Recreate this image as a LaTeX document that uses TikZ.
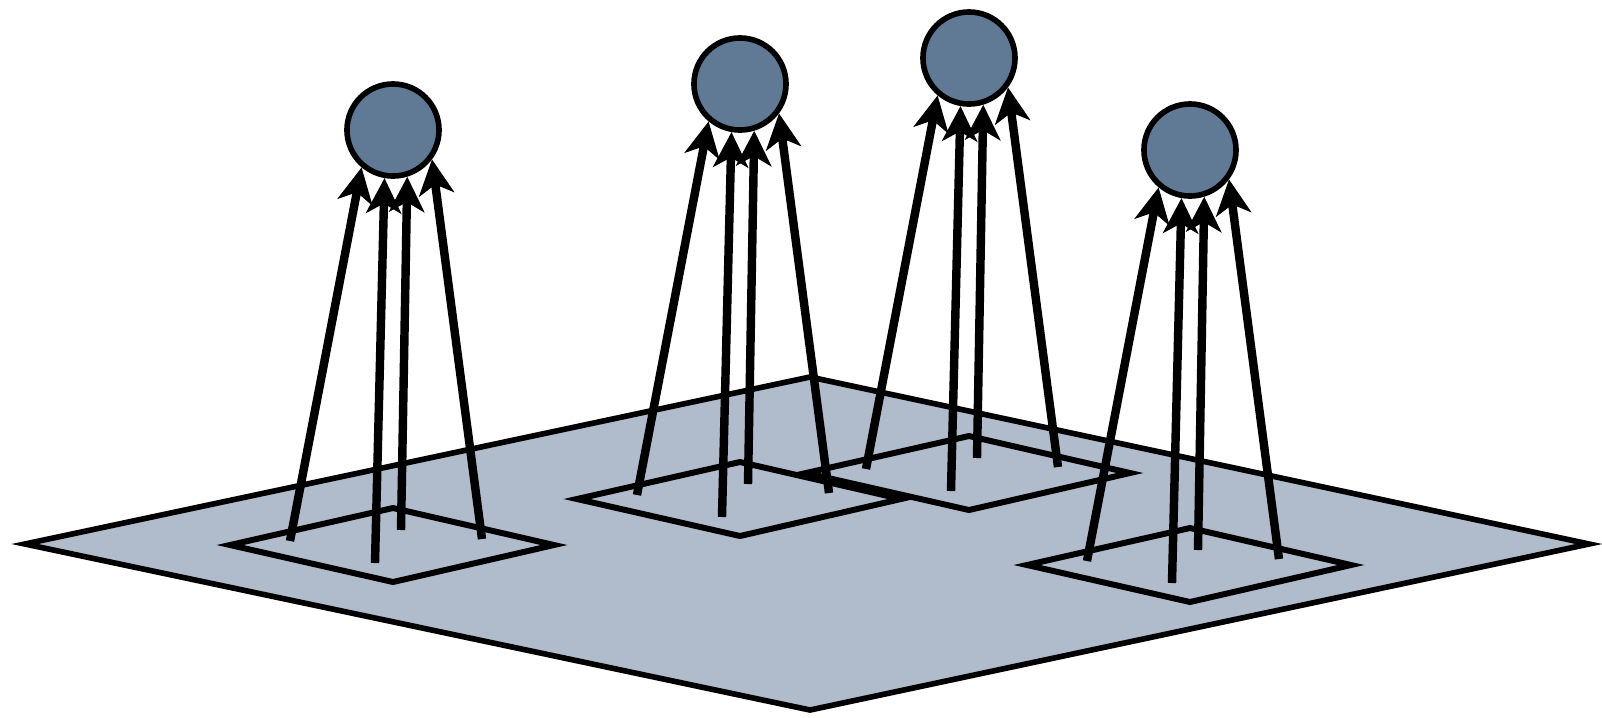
\documentclass[tikz,border=0pt]{standalone}
\usetikzlibrary{arrows.meta}
\definecolor{planeblue}{RGB}{176,188,203}
\definecolor{ballblue}{RGB}{96,122,150}
\tikzset{
  ground/.style={draw, line width=1.6pt, fill=planeblue},
  pad/.style={draw, line width=1.7pt, fill=planeblue},
  ball/.style={circle, draw, line width=1.6pt, fill=ballblue, minimum size=0.92cm, inner sep=0pt},
  leg/.style={->, line width=2.4pt}
}
\begin{document}
\begin{tikzpicture}[x=0.01cm, y=-0.01cm, >={Stealth[length=10pt,width=10pt,inset=2.8pt]}]
  \useasboundingbox (0,0) rectangle (1602,717);
  \draw[ground] (25,544) -- (810,377) -- (1589,544) -- (810,710) -- cycle;
  % back tower
  \begin{scope}[shift={(969,58)}]
    \draw[pad] (-163,415) -- (0,378) -- (161,415) -- (0,452) -- cycle;
    \node[ball] (ball3) at (0,0) {};
    \coordinate (foot3a) at (-103,411); \coordinate (foot3b) at (-18,433);
    \coordinate (foot3c) at (8,400); \coordinate (foot3d) at (89,409);
    \draw[leg] (foot3a) -- (ball3.230);
    \draw[leg] (foot3b) -- (ball3.260);
    \draw[leg] (foot3c) -- (ball3.287);
    \draw[leg] (foot3d) -- (ball3.323);
  \end{scope}
  \begin{scope}[shift={(740,84)}]
    \draw[pad] (-163,415) -- (0,378) -- (161,415) -- (0,452) -- cycle;
    \node[ball] (ball2) at (0,0) {};
    \coordinate (foot2a) at (-103,411); \coordinate (foot2b) at (-18,433);
    \coordinate (foot2c) at (8,400); \coordinate (foot2d) at (89,409);
    \draw[leg] (foot2a) -- (ball2.230);
    \draw[leg] (foot2b) -- (ball2.260);
    \draw[leg] (foot2c) -- (ball2.287);
    \draw[leg] (foot2d) -- (ball2.323);
  \end{scope}
  \begin{scope}[shift={(393,130)}]
    \draw[pad] (-163,415) -- (0,378) -- (161,415) -- (0,452) -- cycle;
    \node[ball] (ball1) at (0,0) {};
    \coordinate (foot1a) at (-103,411); \coordinate (foot1b) at (-18,433);
    \coordinate (foot1c) at (8,400); \coordinate (foot1d) at (89,409);
    \draw[leg] (foot1a) -- (ball1.230);
    \draw[leg] (foot1b) -- (ball1.260);
    \draw[leg] (foot1c) -- (ball1.287);
    \draw[leg] (foot1d) -- (ball1.323);
  \end{scope}
  \begin{scope}[shift={(1190,150)}]
    \draw[pad] (-163,415) -- (0,378) -- (161,415) -- (0,452) -- cycle;
    \node[ball] (ball4) at (0,0) {};
    \coordinate (foot4a) at (-103,411); \coordinate (foot4b) at (-18,433);
    \coordinate (foot4c) at (8,400); \coordinate (foot4d) at (89,409);
    \draw[leg] (foot4a) -- (ball4.230);
    \draw[leg] (foot4b) -- (ball4.260);
    \draw[leg] (foot4c) -- (ball4.287);
    \draw[leg] (foot4d) -- (ball4.323);
  \end{scope}
\end{tikzpicture}
\end{document}
